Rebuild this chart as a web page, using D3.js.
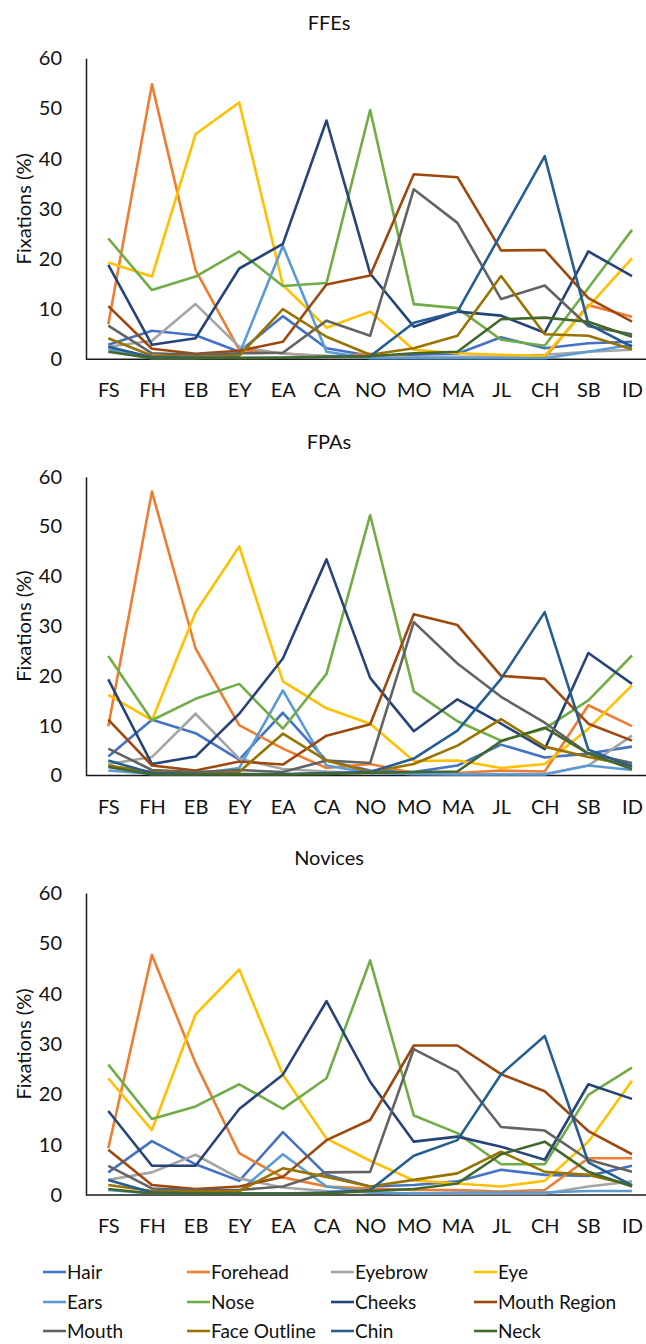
<!DOCTYPE html>
<html>
<head>
<meta charset="utf-8">
<script src="https://cdn.jsdelivr.net/npm/d3@7"></script>
<style>
  html, body { margin: 0; padding: 0; background: #fff; }
  svg { display: block; }
  text { font-family: Lato, "Open Sans", sans-serif; fill: #111; }
</style>
</head>
<body>
<svg id="chart" width="646" height="1344"></svg>
<script>
// ---------- data ----------
const categories = ["FS","FH","EB","EY","EA","CA","NO","MO","MA","JL","CH","SB","ID"];
const seriesNames = ["Hair","Forehead","Eyebrow","Eye","Ears","Nose","Cheeks","Mouth Region","Mouth","Face Outline","Chin","Neck"];
const seriesColors = ["#4472C4","#ED7D31","#A5A5A5","#FFC000","#5B9BD5","#70AD47","#264478","#9E480E","#636363","#997300","#255E91","#43682B"];
const panelTitles = ["FFEs","FPAs","Novices"];
const yTicks = [0,10,20,30,40,50,60];

// rows follow seriesNames order; columns follow categories
const ffesValues = [
  [2.9, 5.7, 4.8, 1.5, 8.6, 2.2, 0.7, 0.9, 1.1, 4.4, 2.2, 3.2, 3.5],   // Hair
  [7.0, 54.8, 17.8, 1.9, 1.2, 0.5, 1.1, 0.3, 0.3, 0.3, 0.3, 10.8, 8.5], // Forehead
  [2.5, 3.7, 11.0, 2.5, 1.1, 0.7, 0.4, 0.4, 0.5, 0.6, 0.9, 1.5, 1.9],   // Eyebrow
  [19.3, 16.5, 44.9, 51.2, 14.8, 6.3, 9.5, 1.9, 1.2, 0.9, 0.7, 10.5, 20.1], // Eye
  [2.0, 0.2, 0.2, 1.0, 22.6, 1.5, 0.2, 0.2, 0.2, 0.2, 0.2, 1.5, 2.9],   // Ears
  [24.1, 13.8, 16.5, 21.5, 14.6, 15.2, 49.7, 11.0, 10.2, 3.9, 2.7, 14.2, 25.8], // Nose
  [18.8, 2.9, 4.2, 18.1, 23.0, 47.6, 17.1, 6.5, 9.5, 8.7, 5.3, 21.5, 16.6], // Cheeks
  [10.6, 2.1, 1.1, 1.7, 3.5, 14.9, 16.7, 36.9, 36.3, 21.7, 21.8, 12.2, 7.5], // Mouth Region
  [6.7, 1.2, 0.9, 1.2, 1.3, 7.7, 4.7, 33.9, 27.2, 12.0, 14.7, 6.6, 5.0], // Mouth
  [4.2, 0.7, 0.5, 0.7, 10.0, 4.5, 0.9, 2.2, 4.7, 16.6, 5.0, 4.7, 2.0],  // Face Outline
  [2.5, 0.4, 0.3, 0.3, 0.3, 0.5, 0.6, 7.3, 9.5, 25.0, 40.5, 7.0, 2.5],  // Chin
  [1.5, 0.2, 0.2, 0.2, 0.3, 0.5, 0.6, 1.2, 1.5, 8.0, 8.3, 7.5, 4.5]     // Neck
];
const fpasValues = [
  [3.8, 11.2, 8.5, 3.2, 12.6, 3.0, 1.0, 0.7, 2.0, 6.2, 3.6, 4.4, 5.8],
  [9.9, 57.0, 25.5, 10.1, 5.4, 1.5, 2.3, 0.5, 0.5, 1.0, 0.8, 14.1, 9.9],
  [2.3, 3.7, 12.4, 3.4, 1.3, 0.8, 0.5, 0.3, 0.3, 0.3, 0.3, 2.0, 8.0],
  [16.2, 11.1, 32.8, 46.0, 18.9, 13.5, 10.4, 2.9, 3.0, 1.5, 2.3, 9.4, 18.1],
  [1.0, 0.3, 0.3, 1.5, 17.1, 2.0, 0.5, 0.3, 0.2, 0.2, 0.2, 2.0, 1.1],
  [24.0, 11.1, 15.4, 18.4, 9.4, 20.4, 52.3, 16.9, 10.9, 7.0, 9.4, 15.1, 24.1],
  [19.3, 2.3, 3.8, 12.4, 23.5, 43.4, 19.6, 8.9, 15.3, 10.4, 5.3, 24.6, 18.4],
  [11.2, 2.0, 1.0, 2.8, 2.2, 8.0, 10.3, 32.4, 30.2, 20.0, 19.4, 10.4, 7.0],
  [5.4, 1.1, 0.7, 1.1, 0.7, 3.0, 2.5, 30.8, 22.5, 15.8, 10.6, 4.4, 2.5],
  [2.0, 0.7, 0.3, 0.7, 8.4, 3.0, 0.7, 2.3, 6.0, 11.3, 5.8, 3.7, 2.0],
  [3.0, 0.5, 0.3, 0.3, 0.3, 0.5, 0.7, 3.4, 9.0, 19.4, 32.8, 5.2, 1.8],
  [1.7, 0.2, 0.2, 0.2, 0.2, 0.3, 0.5, 0.7, 0.8, 6.9, 9.6, 4.4, 1.3]
];
const novicesValues = [
  [4.5, 10.7, 6.1, 2.8, 12.5, 4.0, 1.7, 2.0, 2.7, 5.0, 4.0, 3.8, 5.8],
  [9.3, 47.7, 26.2, 8.3, 3.5, 1.7, 1.3, 1.0, 1.0, 0.7, 1.0, 7.3, 7.3],
  [3.0, 4.5, 8.0, 3.3, 1.5, 0.8, 0.5, 0.3, 0.3, 0.3, 0.3, 1.7, 2.7],
  [23.2, 12.9, 35.9, 44.8, 23.9, 11.2, 6.8, 2.9, 2.3, 1.7, 2.8, 10.6, 22.7],
  [1.0, 0.3, 0.3, 0.7, 8.1, 1.7, 0.5, 0.3, 0.5, 0.5, 0.5, 0.8, 0.8],
  [25.9, 15.1, 17.6, 22.0, 17.1, 23.2, 46.6, 15.8, 12.3, 6.1, 6.1, 19.9, 25.3],
  [16.7, 5.8, 5.8, 17.1, 23.9, 38.5, 22.5, 10.6, 11.6, 9.6, 7.0, 22.0, 19.1],
  [9.0, 2.0, 1.2, 1.7, 3.6, 10.9, 14.9, 29.7, 29.7, 24.0, 20.6, 12.7, 8.1],
  [5.8, 1.3, 1.0, 1.0, 1.7, 4.5, 4.6, 29.0, 24.5, 13.5, 12.8, 7.0, 4.6],
  [2.0, 0.8, 0.7, 0.8, 5.3, 3.6, 1.7, 3.0, 4.3, 8.6, 4.6, 4.0, 2.0],
  [3.0, 0.5, 0.3, 0.3, 0.3, 0.5, 1.0, 7.8, 10.9, 24.0, 31.6, 6.5, 1.9],
  [1.2, 0.3, 0.3, 0.3, 0.3, 0.3, 0.8, 1.2, 2.3, 8.1, 10.6, 4.6, 1.7]
];
const panelValues = [ffesValues, fpasValues, novicesValues];

// ---------- layout ----------
const svg = d3.select("#chart");
const axisX = 86, axisRight = 646;
const panelTop = [58.3, 476.7, 893];
const panelBottom = [359.3, 775.5, 1195];
const titleX = 329;

const x = d3.scalePoint().domain(categories).range([108.3, 632]);

panelValues.forEach((vals, p) => {
  const g = svg.append("g");
  const y = d3.scaleLinear().domain([0, 60]).range([panelBottom[p], panelTop[p]]);

  // title
  g.append("text").attr("x", titleX).attr("y", panelTop[p] - 28)
    .attr("text-anchor", "middle").attr("font-size", 20).text(panelTitles[p]);

  // y tick labels
  const yAxis = d3.axisLeft(y).tickValues(yTicks).tickSize(0).tickPadding(24);
  const ya = g.append("g").attr("transform", `translate(${axisX},0)`).call(yAxis);
  ya.select(".domain").attr("stroke", "#1a1a1a").attr("stroke-width", 1.5);
  ya.selectAll("text").attr("font-size", 20).attr("font-family", "Lato, sans-serif").attr("fill", "#111");

  // x axis
  const xa = g.append("g").attr("transform", `translate(0,${panelBottom[p]})`)
    .call(d3.axisBottom(x).tickSize(0).tickPadding(24));
  xa.select(".domain").attr("d", `M${axisX},0H${axisRight}`).attr("stroke", "#1a1a1a").attr("stroke-width", 1.5);
  xa.selectAll("text").attr("font-size", 20).attr("font-family", "Lato, sans-serif").attr("fill", "#111");

  // y axis title
  const cy = (panelTop[p] + panelBottom[p]) / 2;
  g.append("text").attr("transform", `translate(31,${cy}) rotate(-90)`)
    .attr("text-anchor", "middle").attr("font-size", 20).text("Fixations (%)");

  // lines
  const line = d3.line().x((d, i) => x(categories[i])).y(d => y(d));
  vals.forEach((s, k) => {
    g.append("path").datum(s).attr("d", line)
      .attr("fill", "none").attr("stroke", seriesColors[k])
      .attr("stroke-width", 2.6).attr("stroke-linejoin", "round");
  });
});

// legend
const legX = [43, 187, 331, 474];
const legY = [1272, 1302, 1331];
seriesNames.forEach((name, k) => {
  const cx = legX[k % 4], cyy = legY[Math.floor(k / 4)];
  svg.append("line").attr("x1", cx).attr("x2", cx + 23).attr("y1", cyy).attr("y2", cyy)
    .attr("stroke", seriesColors[k]).attr("stroke-width", 2.6);
  svg.append("text").attr("x", cx + 24).attr("y", cyy).attr("dy", "0.35em")
    .attr("font-size", 19).text(name);
});
</script>
</body>
</html>
